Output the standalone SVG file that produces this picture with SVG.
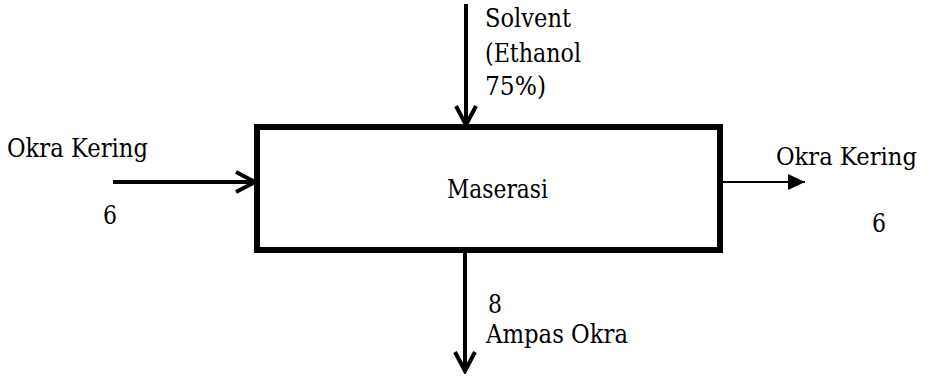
<svg xmlns="http://www.w3.org/2000/svg" width="933" height="376" viewBox="0 0 933 376">
<style>
text{font-family:'DejaVu Serif','Liberation Serif','Times New Roman',serif;font-size:26px;fill:#000}
text.edge{font-size:24px}
.thick{stroke:#000;stroke-width:4;fill:none}
.thin{stroke:#000;stroke-width:2;fill:none}
</style>
<defs>
<marker id="open" markerWidth="24" markerHeight="26" refX="21" refY="12" orient="auto" markerUnits="userSpaceOnUse">
<path d="M2,2 L21,12 L2,22" fill="none" stroke="#000" stroke-width="4"/>
</marker>
<marker id="tri" markerWidth="18" markerHeight="18" refX="17" refY="9" orient="auto" markerUnits="userSpaceOnUse">
<path d="M0,1 L17,9 L0,17 Z" fill="#000"/>
</marker>
</defs>
<rect width="933" height="376" fill="#fff"/>
<g id="connectors">
<line class="thick" x1="113" y1="182" x2="255" y2="182" marker-end="url(#open)"/>
<line class="thick" x1="466" y1="4" x2="466" y2="125" marker-end="url(#open)"/>
<line class="thick" x1="465" y1="252" x2="465" y2="371" marker-end="url(#open)"/>
<line class="thin" x1="723" y1="182" x2="805" y2="182" marker-end="url(#tri)"/>
</g>
<g id="maserasi">
<rect x="257" y="127" width="463" height="123" fill="none" stroke="#000" stroke-width="6"/>
<text x="447" y="198" textLength="101" lengthAdjust="spacingAndGlyphs">Maserasi</text>
</g>
<g id="input-label">
<text x="7" y="157" textLength="141" lengthAdjust="spacingAndGlyphs">Okra Kering</text>
<text x="103" y="224" textLength="14" lengthAdjust="spacingAndGlyphs">6</text>
</g>
<g id="solvent-label">
<text x="485" y="27" textLength="86" lengthAdjust="spacingAndGlyphs">Solvent</text>
<text x="485" y="62" textLength="96" lengthAdjust="spacingAndGlyphs">(Ethanol</text>
<text x="485" y="95" textLength="61" lengthAdjust="spacingAndGlyphs">75%)</text>
</g>
<g id="output-label">
<text class="edge" x="776" y="165" textLength="141" lengthAdjust="spacingAndGlyphs">Okra Kering</text>
<text x="872" y="232" textLength="14" lengthAdjust="spacingAndGlyphs">6</text>
</g>
<g id="ampas-label">
<text x="488" y="313" textLength="14" lengthAdjust="spacingAndGlyphs">8</text>
<text x="486" y="343" textLength="142" lengthAdjust="spacingAndGlyphs">Ampas Okra</text>
</g>
</svg>
